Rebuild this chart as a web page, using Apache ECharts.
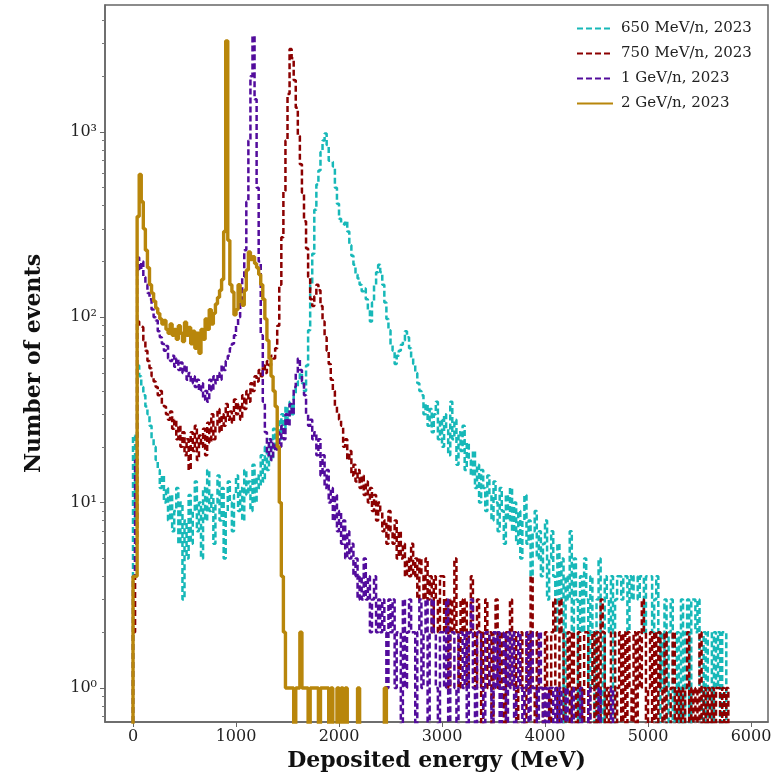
<!DOCTYPE html>
<html><head><meta charset="utf-8">
<script src="https://cdn.jsdelivr.net/npm/echarts@6/dist/echarts.min.js"></script>
<style>html,body{margin:0;padding:0;background:#fff}#c{width:773px;height:782px}</style>
</head><body><div id="c"></div>
<script>
// histogram bin width (MeV); each count array starts at 0 MeV
const binWidth = 20;
const seriesNames = ['650 MeV/n, 2023', '750 MeV/n, 2023', '1 GeV/n, 2023', '2 GeV/n, 2023'];

const counts650 = [
  23, 8, 55, 48, 42, 38, 33, 30, 26, 22,
  20, 17, 15, 12, 14, 10, 12, 8, 11, 7,
  9, 12, 6, 10, 3, 8, 5, 11, 6, 9,
  13, 7, 10, 5, 12, 8, 15, 9, 11, 6,
  10, 14, 8, 12, 5, 9, 13, 10, 7, 11,
  14, 9, 12, 8, 15, 11, 13, 9, 16, 10,
  14, 12, 18, 13, 20, 15, 22, 17, 25, 20,
  28, 22, 30, 25, 33, 28, 35, 30, 38, 42,
  45, 50, 44, 40, 55, 85, 150, 220, 380, 520,
  620, 780, 900, 980, 850, 700, 690, 650, 500, 410,
  340, 320, 315, 330, 290, 245, 215, 192, 170, 162,
  150, 138, 143, 125, 110, 95, 120, 150, 175, 192,
  175, 150, 120, 98, 85, 71, 66, 56, 62, 66,
  71, 75, 84, 78, 68, 60, 56, 50, 44, 40,
  38, 30, 34, 26, 32, 24, 30, 35, 22, 28,
  20, 30, 25, 18, 35, 22, 28, 16, 24, 19,
  26, 15, 21, 17, 14, 19, 12, 16, 10, 15,
  12, 9, 14, 11, 8, 13, 10, 7, 12, 9,
  6, 11, 8, 12, 7, 10, 6, 9, 5, 8,
  11, 6, 8, 4, 7, 9, 5, 7, 4, 6,
  8, 3, 5, 7, 4, 2, 6, 3, 5, 0,
  4, 3, 7, 2, 5, 3, 0, 4, 2, 5,
  3, 1, 4, 2, 0, 3, 5, 2, 0, 4,
  3, 2, 4, 0, 3, 4, 4, 3, 4, 4,
  2, 4, 3, 4, 4, 3, 4, 4, 2, 4,
  4, 4, 2, 3, 4, 0, 2, 1, 3, 0,
  2, 3, 0, 1, 2, 0, 3, 0, 2, 3,
  0, 3, 3, 2, 3, 1, 0, 2, 0, 2,
  2, 0, 2, 1, 2, 0, 2, 2, 0
];

const counts750 = [
  2, 6, 95, 90, 88, 75, 66, 58, 53, 48,
  45, 42, 38, 40, 34, 33, 30, 28, 31, 25,
  28, 22, 26, 20, 24, 18, 22, 15, 24, 19,
  26, 17, 23, 20, 25, 18, 27, 21, 30, 22,
  26, 32, 24, 30, 26, 34, 28, 31, 27, 36,
  30, 34, 28, 38, 32, 40, 35, 44, 40, 48,
  45, 52, 48, 55, 50, 58, 55, 62, 60, 68,
  90, 150, 270, 480, 900, 1600, 2800, 2500, 1900, 1350,
  950, 670, 470, 330, 235, 165, 125, 115, 130, 150,
  140, 115, 95, 78, 66, 56, 46, 40, 33, 30,
  28, 26, 20, 22, 17, 19, 14, 16, 13, 15,
  12, 14, 11, 13, 10, 12, 9, 11, 8, 10,
  9, 7, 8, 6, 9, 7, 6, 8, 5, 7,
  5, 6, 4, 5, 4, 6, 4, 5, 3, 5,
  4, 3, 5, 3, 4, 2, 4, 3, 2, 4,
  4, 2, 3, 1, 3, 2, 5, 2, 1, 3,
  2, 3, 1, 2, 4, 2, 1, 3, 2, 0,
  2, 3, 1, 2, 0, 2, 3, 1, 2, 1,
  0, 2, 1, 3, 1, 2, 0, 1, 2, 1,
  0, 2, 1, 4, 1, 0, 2, 1, 1, 0,
  2, 1, 0, 2, 3, 1, 0, 3, 2, 0,
  1, 2, 0, 2, 1, 0, 2, 1, 0, 2,
  2, 0, 1, 2, 0, 2, 0, 3, 2, 0,
  1, 0, 2, 2, 0, 1, 2, 0, 2, 0,
  2, 1, 0, 2, 0, 2, 1, 3, 2, 0,
  1, 2, 0, 2, 0, 2, 1, 0, 2, 0,
  0, 1, 2, 0, 1, 0, 1, 0, 1, 2,
  0, 1, 0, 1, 0, 2, 0, 1, 0, 1,
  0, 1, 0, 1, 1, 0, 1, 0, 1
];

const counts1GeV = [
  4, 17, 210, 180, 200, 165, 150, 135, 125, 110,
  100, 96, 84, 78, 72, 66, 70, 60, 58, 62,
  54, 60, 52, 57, 50, 55, 46, 50, 44, 48,
  42, 46, 40, 44, 36, 40, 35, 46, 40, 48,
  44, 50, 46, 55, 52, 58, 62, 68, 72, 80,
  90, 100, 125, 165, 230, 420, 900, 2000, 3300, 1500,
  500, 200, 80, 35, 24, 18, 22, 17, 21, 19,
  24, 20, 26, 22, 30, 26, 34, 30, 42, 50,
  60, 52, 45, 38, 30, 26, 28, 22, 24, 18,
  22, 14, 18, 12, 15, 10, 12, 8, 11, 7,
  9, 6, 8, 5, 7, 5, 6, 4, 5, 3,
  4, 3, 5, 3, 4, 2, 3, 4, 2, 3,
  2, 3, 2, 1, 3, 2, 3, 1, 2, 2,
  0, 3, 1, 2, 3, 2, 2, 0, 2, 3,
  1, 2, 3, 0, 2, 3, 2, 1, 0, 2,
  2, 1, 3, 0, 2, 2, 1, 0, 2, 2,
  1, 2, 0, 2, 3, 1, 0, 2, 2, 1,
  0, 2, 2, 1, 0, 2, 1, 2, 0, 1,
  2, 0, 2, 1, 2, 0, 1, 2, 1, 0,
  1, 2, 0, 2, 1, 1, 0, 2, 1, 0,
  1, 0, 1, 1, 0, 1, 0, 1, 0, 0,
  1, 0, 0, 1, 0, 0, 0, 1, 0, 0,
  0, 1, 0, 0, 0, 0, 1, 0, 0, 0,
  0, 0, 1
];

const counts2GeV = [
  4, 4, 350, 590, 420, 300, 230, 185, 150, 135,
  122, 112, 105, 98, 92, 96, 86, 82, 92, 80,
  86, 76, 90, 82, 74, 94, 80, 88, 72, 84,
  68, 82, 64, 86, 76, 98, 86, 110, 92, 105,
  118, 128, 140, 160, 290, 3100, 260, 150, 137, 103,
  110, 150, 122, 116, 140, 180, 225, 205, 212, 195,
  185, 170, 150, 125, 98, 75, 60, 48, 40, 33,
  20, 10, 4, 2, 1, 1, 1, 1, 0, 1,
  1, 2, 1, 1, 1, 0, 1, 1, 1, 1,
  0, 1, 1, 1, 1, 0, 1, 0, 0, 1,
  0, 1, 0, 1, 0, 0, 0, 0, 0, 1,
  0, 0, 0, 0, 0, 0, 0, 0, 0, 0,
  0, 0, 1
];

const xTickValues = [0, 1000, 2000, 3000, 4000, 5000, 6000];
const yMajorTicks = [1, 10, 100, 1000];
const yMinorTicks = [0.7, 0.8, 0.9, 2, 3, 4, 5, 6, 7, 8, 9, 20, 30, 40, 50, 60, 70, 80, 90,
  200, 300, 400, 500, 600, 700, 800, 900, 2000, 3000, 4000];
const supers = {'0': '\u2070', '1': '\u00b9', '2': '\u00b2', '3': '\u00b3'};

const colors = ['#17b8b8', '#8b0000', '#520c9c', '#b8860b'];
const FLOOR = 1e-3; // empty bins fall below the axis, like matplotlib's clipped log
const xMin = -272, xMax = 6165, yMin = 0.655, yMax = 4840;

function toSteps(counts) {
  const pts = [[0, FLOOR]];
  counts.forEach((c, i) => pts.push([i * binWidth, c > 0 ? c : FLOOR]));
  pts.push([counts.length * binWidth, FLOOR]);
  return pts;
}

const allCounts = [counts650, counts750, counts1GeV, counts2GeV];
const font = 'DejaVu Serif';

const series = allCounts.map((cnt, k) => ({
  name: seriesNames[k],
  type: 'line',
  step: 'end',
  symbol: 'none',
  showSymbol: false,
  clip: true,
  animation: false,
  data: toSteps(cnt),
  lineStyle: k === 3 ? {color: colors[k], width: 3.4, type: 'solid'}
                     : {color: colors[k], width: 2.5, type: [6, 3]},
  itemStyle: {color: colors[k]}
}));

const chart = echarts.init(document.getElementById('c'), null, {renderer: 'canvas'});
chart.setOption({
  backgroundColor: '#fff',
  animation: false,
  grid: {left: 105, right: 5, top: 5, bottom: 60, show: true, borderColor: '#666', borderWidth: 1.5,
         containLabel: false, outerBoundsMode: 'none'},
  legend: {
    orient: 'vertical', left: 571, top: 16, itemWidth: 36, itemHeight: 14, itemGap: 10,
    data: seriesNames,
    itemStyle: {opacity: 0},
    textStyle: {fontFamily: font, fontSize: 15, color: '#222', lineHeight: 14, padding: [0, 0, 0, 3]}
  },
  xAxis: {
    type: 'value', min: xMin, max: xMax,
    name: 'Deposited energy (MeV)', nameLocation: 'middle', nameGap: 27,
    nameTextStyle: {fontFamily: font, fontSize: 22, fontWeight: 'bold', color: '#111'},
    axisLine: {show: true, onZero: false, lineStyle: {color: '#666', width: 1.5}},
    axisTick: {show: true, length: 5, customValues: xTickValues, lineStyle: {color: '#666'}},
    axisLabel: {customValues: xTickValues, margin: 7, fontFamily: font, fontSize: 16, color: '#222',
      formatter: v => String(v)},
    splitLine: {show: false}
  },
  yAxis: [{
    type: 'log', logBase: 10, min: yMin, max: yMax,
    name: 'Number of events', nameLocation: 'middle', nameGap: 60,
    nameTextStyle: {fontFamily: font, fontSize: 22, fontWeight: 'bold', color: '#111'},
    axisLine: {show: true, onZero: false, lineStyle: {color: '#666', width: 1.5}},
    axisTick: {show: true, length: 5, customValues: yMajorTicks, lineStyle: {color: '#666'}},
    axisLabel: {customValues: yMajorTicks, margin: 8, fontFamily: font, fontSize: 16, color: '#222',
      formatter: v => '10' + supers[String(Math.round(Math.log10(v)))]},
    splitLine: {show: false}
  }, {
    type: 'log', logBase: 10, min: yMin, max: yMax, position: 'left', offset: 0,
    axisLine: {show: false, onZero: false},
    axisTick: {show: true, length: 3, customValues: yMinorTicks, lineStyle: {color: '#777'}},
    axisLabel: {show: false},
    splitLine: {show: false}
  }],
  series: series
});
</script></body></html>
